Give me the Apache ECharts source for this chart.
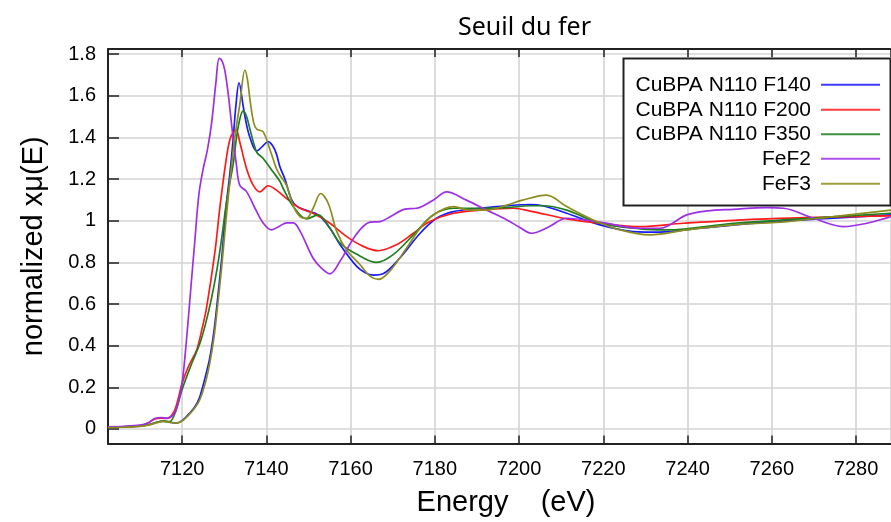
<!DOCTYPE html>
<html>
<head>
<meta charset="utf-8">
<script src="https://cdn.jsdelivr.net/npm/echarts@6/dist/echarts.min.js"></script>
<style>
html,body{margin:0;padding:0;background:#fff;}
#chart{width:891px;height:522px;}
</style>
</head>
<body>
<div id="chart"></div>
<script>
// ---- Data ----
const seriesNames = ["CuBPA N110 F140", "CuBPA N110 F200", "CuBPA N110 F350", "FeF2", "FeF3"];

const f140E = [7102.4,7106,7110,7112,7114,7115.5,7117,7118.5,7120,7121.5,7123,7124.2,7125.5,7126.6,7127.5,7128.2,7129.4,7130.4,7131.3,7132.1,7132.8,7133.5,7134.5,7135.2,7136.1,7137.7,7139.2,7140.4,7141.5,7142.4,7143.2,7144.4,7146,7147.2,7149.5,7152.3,7155.1,7157.5,7161.4,7163.5,7165.4,7167.7,7171.7,7176.5,7180.4,7184.4,7190.7,7197.1,7202.6,7205.6,7211.3,7219.2,7227.2,7233.4,7242.9,7258.8,7274.6,7288.3];
const f140Y = [0.008,0.010,0.014,0.020,0.032,0.037,0.033,0.028,0.040,0.070,0.105,0.155,0.250,0.345,0.460,0.583,0.820,1.060,1.220,1.390,1.560,1.663,1.550,1.470,1.400,1.335,1.360,1.380,1.360,1.320,1.260,1.200,1.100,1.070,1.050,1.028,0.964,0.885,0.782,0.750,0.739,0.745,0.821,0.940,1.012,1.044,1.060,1.072,1.078,1.072,1.036,0.980,0.948,0.945,0.964,0.993,1.012,1.028];

const f200E = [7102.4,7106,7110,7112,7113.5,7115,7116.5,7118,7119,7120,7121.5,7123.4,7124.6,7125.8,7127.8,7129,7130.5,7131.5,7132.8,7133.7,7135.3,7136.9,7138.5,7140.4,7142.4,7144.8,7148,7151.1,7155.1,7159,7163,7166.6,7170.9,7174.9,7178.8,7184.4,7190.7,7198.6,7203.2,7211.3,7219.2,7228.7,7239,7258.8,7288.3];
const f200Y = [0.008,0.010,0.016,0.030,0.048,0.052,0.050,0.080,0.140,0.220,0.300,0.377,0.470,0.583,0.853,1.070,1.300,1.400,1.437,1.377,1.250,1.170,1.139,1.168,1.147,1.107,1.060,1.036,0.988,0.925,0.877,0.856,0.885,0.940,0.996,1.036,1.051,1.060,1.044,1.009,0.988,0.972,0.988,1.009,1.023];

const f350E = [7102.4,7106,7110,7112,7114,7115.5,7117,7118.3,7120,7122,7124.2,7125.5,7127,7128.3,7129.4,7130.4,7131.2,7132.1,7133.3,7134.5,7135.3,7136.1,7137.7,7139.2,7141.6,7143.2,7144,7146.4,7149.5,7152.3,7155.1,7157.5,7161.4,7166.2,7170.1,7174.9,7179.6,7184.4,7190.7,7197.1,7202.6,7205.6,7211.3,7219.2,7228.7,7235,7250.9,7266.7,7288.3];
const f350Y = [0.008,0.010,0.014,0.020,0.032,0.037,0.035,0.075,0.190,0.300,0.410,0.500,0.630,0.770,0.917,1.070,1.170,1.270,1.450,1.528,1.500,1.440,1.330,1.300,1.234,1.190,1.155,1.068,1.009,1.028,0.964,0.893,0.840,0.800,0.837,0.932,1.028,1.060,1.060,1.063,1.072,1.072,1.051,0.988,0.961,0.956,0.988,1.009,1.036];

const fef2E = [7102.4,7106,7110,7112,7113.5,7115,7116.5,7118,7119,7120,7121,7122,7123,7124,7125,7126,7127,7128,7128.8,7129.4,7130.1,7131,7131.7,7132.9,7133.7,7135.3,7137.3,7139.3,7141.2,7143.2,7144.8,7146.4,7148,7151.1,7153.2,7155.1,7157.5,7161.4,7164.6,7167,7169.5,7172.9,7175.7,7179.6,7182.8,7187.5,7192.3,7197.1,7200,7203,7207,7211.3,7219.2,7228.7,7233.4,7239.8,7244.6,7250.9,7258.8,7262.8,7269.9,7277,7282.6,7288.3];
const fef2Y = [0.010,0.012,0.018,0.030,0.050,0.055,0.052,0.070,0.120,0.220,0.420,0.660,0.900,1.130,1.250,1.340,1.470,1.660,1.780,1.770,1.726,1.600,1.470,1.266,1.170,1.140,1.060,0.988,0.956,0.975,0.990,0.990,0.950,0.820,0.770,0.745,0.806,0.936,0.993,0.996,1.020,1.056,1.060,1.099,1.139,1.099,1.051,1.004,0.970,0.940,0.970,1.012,0.993,0.964,0.964,1.028,1.047,1.055,1.063,1.060,1.012,0.972,0.988,1.020];

const fef3E = [7102.4,7106,7110,7112,7114,7115.5,7117,7118.5,7120,7121.5,7123,7124.2,7125.5,7126.6,7127.5,7128.2,7129.4,7130.4,7131.4,7132.2,7133,7133.7,7134.9,7135.5,7136.1,7137,7137.7,7139.2,7140.8,7142.4,7143.2,7144.8,7146.4,7148,7149.5,7151.1,7152.9,7154.7,7156.7,7159,7162.2,7164.6,7166.6,7169.3,7173.3,7176.5,7179.6,7184.4,7188.3,7192.3,7197.1,7200.8,7206.5,7211.3,7217.6,7224,7231.1,7239.8,7250.9,7263.6,7274.6,7288.3];
const fef3Y = [0.006,0.008,0.012,0.018,0.030,0.036,0.032,0.028,0.038,0.065,0.100,0.140,0.220,0.320,0.430,0.550,0.780,1.000,1.200,1.350,1.470,1.560,1.723,1.680,1.583,1.470,1.440,1.428,1.345,1.250,1.220,1.170,1.070,1.020,1.012,1.060,1.131,1.083,0.949,0.861,0.790,0.734,0.718,0.758,0.869,0.964,1.028,1.068,1.051,1.051,1.075,1.099,1.123,1.068,1.004,0.956,0.932,0.956,0.980,0.996,1.020,1.051];

const xTickLabels = ["7120","7140","7160","7180","7200","7220","7240","7260","7280"];
const yTickLabels = ["0","0.2","0.4","0.6","0.8","1","1.2","1.4","1.6","1.8"];

const energies = [f140E, f200E, f350E, fef2E, fef3E];
const values = [f140Y, f200Y, f350Y, fef2Y, fef3Y];
const colors = ["#1a1aff", "#ff1a1a", "#1f7f1f", "#9d2fe6", "#8c8c1c"];

const FONT = "Liberation Sans";

const series = seriesNames.map((name, i) => ({
  name: name,
  type: "line",
  data: energies[i].map((e, k) => [e, values[i][k]]),
  symbol: "none",
  smooth: 0.35,
  clip: true,
  lineStyle: { color: colors[i], width: 1.7 },
  itemStyle: { color: colors[i] },
  emphasis: { disabled: true },
  z: 2 + i
}));

const legendTops = [74.3, 99.3, 123.7, 148.3, 173.3];
const legends = seriesNames.map((name, i) => ({
  data: [name],
  orient: "vertical",
  right: 11,
  top: legendTops[i],
  padding: 0,
  align: "right",
  icon: "rect",
  itemWidth: 59,
  itemHeight: 2,
  itemGap: 0,
  selectedMode: false,
  z: 10,
  itemStyle: { color: colors[i], opacity: 0.85 },
  textStyle: { fontFamily: FONT, fontSize: 21, color: "#000", padding: [0, 5, 0, 0] }
}));

const chart = echarts.init(document.getElementById("chart"), null, { renderer: "canvas" });
chart.setOption({
  animation: false,
  backgroundColor: "#fff",
  title: {
    text: "Seuil du fer",
    left: 458,
    top: 15,
    padding: 0,
    textStyle: { fontFamily: "Noto Sans", fontSize: 25, fontWeight: "normal", color: "#000" }
  },
  grid: { left: 108, top: 49, right: 0, bottom: 75, containLabel: false },
  legend: legends,
  graphic: [{
    type: "rect",
    shape: { x: 623.5, y: 58.5, width: 267, height: 147 },
    style: { fill: "#fff", stroke: "#222", lineWidth: 2 },
    z: 8
  }],
  xAxis: [{
    type: "value",
    min: 7102.4,
    max: 7288.3,
    splitNumber: 9,
    minInterval: 20,
    maxInterval: 20,
    name: "Energy    (eV)",
    nameLocation: "middle",
    nameGap: 44.5,
    nameTextStyle: { fontFamily: FONT, fontSize: 29, color: "#000", padding: [0, 0, 0, 13] },
    axisLine: { show: true, onZero: false, lineStyle: { color: "#222", width: 2 } },
    axisTick: { show: true, inside: true, length: 8, lineStyle: { color: "#222", width: 1.5 } },
    axisLabel: {
      show: true, margin: 16, showMinLabel: false, showMaxLabel: false,
      fontFamily: FONT, fontSize: 20, color: "#000",
      formatter: function (v) { const s = String(Math.round(v)); return xTickLabels.indexOf(s) >= 0 ? s : ""; }
    },
    splitLine: { show: true, lineStyle: { color: "#d4d4d4", width: 1.6 } }
  }, {
    type: "value",
    position: "top",
    min: 7102.4,
    max: 7288.3,
    splitNumber: 9,
    minInterval: 20,
    maxInterval: 20,
    axisLine: { show: true, onZero: false, lineStyle: { color: "#222", width: 2 } },
    axisTick: { show: true, inside: true, length: 8, lineStyle: { color: "#222", width: 1.5 } },
    axisLabel: { show: false },
    splitLine: { show: false }
  }],
  yAxis: {
    type: "value",
    min: -0.07,
    max: 1.825,
    splitNumber: 9,
    minInterval: 0.2,
    maxInterval: 0.2,
    name: "normalized xμ(E)",
    nameLocation: "middle",
    nameGap: 60,
    nameTextStyle: { fontFamily: FONT, fontSize: 29, color: "#000" },
    axisLine: { show: true, onZero: false, lineStyle: { color: "#222", width: 2 } },
    axisTick: { show: true, inside: true, length: 11, lineStyle: { color: "#222", width: 1.5 } },
    axisLabel: {
      show: true, margin: 12, showMinLabel: false, showMaxLabel: false,
      fontFamily: FONT, fontSize: 20, color: "#000",
      formatter: function (v) { const s = String(Math.round(v * 10) / 10); return yTickLabels.indexOf(s) >= 0 ? s : ""; }
    },
    splitLine: { show: true, lineStyle: { color: "#d4d4d4", width: 1.6 } }
  },
  series: series
});
</script>
</body>
</html>
